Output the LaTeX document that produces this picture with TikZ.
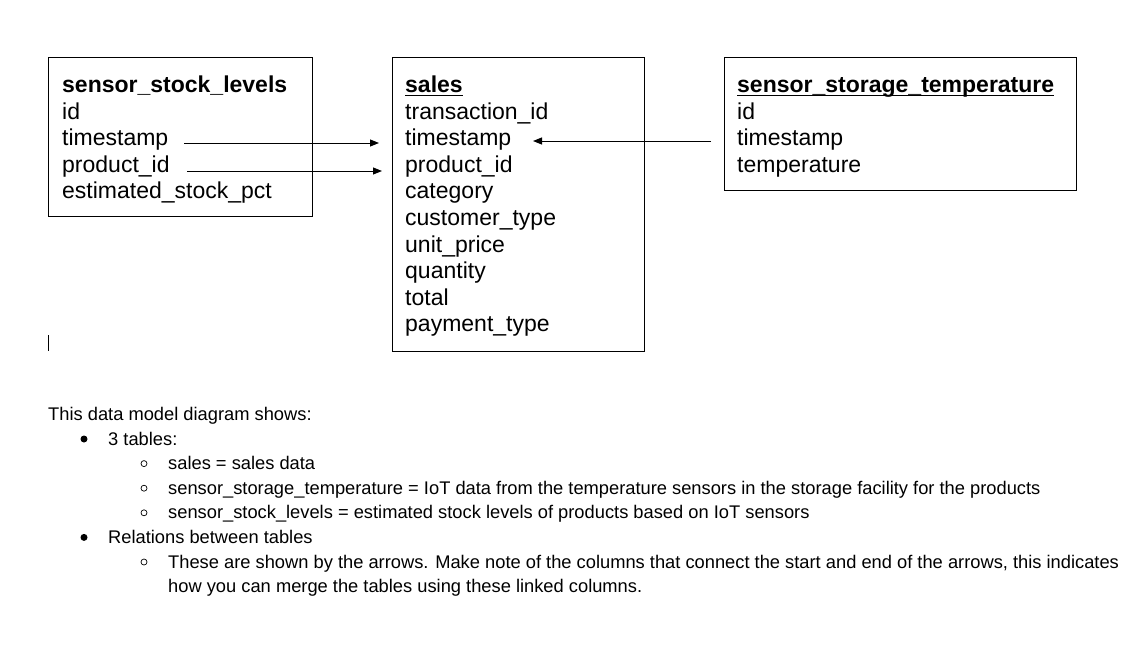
\documentclass[tikz,border=0pt]{standalone}
\usepackage{fontspec}
\setmainfont{Liberation Sans}
\usetikzlibrary{arrows.meta}
\begin{document}
\begin{tikzpicture}[x=1pt,y=-1pt,
  tbl/.style={draw, line width=1pt, inner sep=0pt, anchor=north west},
  fld/.style={anchor=base west, inner sep=0pt, font=\fontsize{23}{26}\selectfont},
  ttl/.style={anchor=base west, inner sep=0pt, font=\fontsize{23}{26}\selectfont\bfseries},
  uline/.style={line width=1.8pt},
  note/.style={anchor=base west, inner sep=0pt, font=\fontsize{18.3}{22}\selectfont},
  dotb/.style={circle, fill=black, inner sep=0pt, minimum size=7pt},
  ringb/.style={circle, draw=black, line width=0.7pt, inner sep=0pt, minimum size=6pt},
  link/.style={line width=1pt, -{Triangle[length=9pt,width=7pt]}}]
\useasboundingbox[fill=white] (0,0) rectangle (1140,645);

% boxes
\node[tbl, minimum width=264pt, minimum height=159pt] (sslBox) at (48,57) {};
\node[tbl, minimum width=252pt, minimum height=294pt] (salesBox) at (392,57) {};
\node[tbl, minimum width=352pt, minimum height=133pt] (sstBox) at (724,57) {};

% sensor_stock_levels
\node[ttl] (sslT) at (62,92.5) {sensor\_stock\_levels};
\node[fld] (sslId) at (62,119) {id};
\node[fld] (sslTs) at (62,145.6) {timestamp};
\node[fld] (sslPid) at (62,172.2) {product\_id};
\node[fld] (sslEst) at (62,198.8) {estimated\_stock\_pct};

% sales
\node[ttl] (salesT) at (405,92.5) {sales};
\draw[uline] ([yshift=-3pt]salesT.base west) -- ([yshift=-3pt]salesT.base east);
\node[fld] (sTid) at (405,119) {transaction\_id};
\node[fld] (sTs) at (405,145.6) {timestamp};
\node[fld] (sPid) at (405,172.2) {product\_id};
\node[fld] (sCat) at (405,198.8) {category};
\node[fld] (sCust) at (405,225.4) {customer\_type};
\node[fld] (sUp) at (405,252) {unit\_price};
\node[fld] (sQty) at (405,278.6) {quantity};
\node[fld] (sTot) at (405,305.2) {total};
\node[fld] (sPay) at (405,331.8) {payment\_type};

% sensor_storage_temperature
\node[ttl] (sstT) at (737,92.5) {sensor\_storage\_temperature};
\draw[uline] ([yshift=-3pt]sstT.base west) -- ([yshift=-3pt]sstT.base east);
\node[fld] (sstId) at (737,119) {id};
\node[fld] (sstTs) at (737,145.6) {timestamp};
\node[fld] (sstTemp) at (737,172.2) {temperature};

% relations
\coordinate (a1s) at (184,143);
\coordinate (a1e) at (379,143);
\coordinate (a2s) at (187,171);
\coordinate (a2e) at (382,171);
\coordinate (a3s) at (711,141);
\coordinate (a3e) at (533,141);
\draw[link] (a1s) -- (a1e);
\draw[link] (a2s) -- (a2e);
\draw[link] (a3s) -- (a3e);

% cursor mark
\coordinate (cur) at (48.5,335);
\draw[line width=0.8pt] (cur) -- ++(0,16);

% notes
\node[note] (n0) at (48,420.5) {This data model diagram shows:};
\node[dotb] (b1) at (84,439) {};
\node[note] (n1) at (108,445) {3 tables:};
\node[ringb] (r1) at (144,463.6) {};
\node[note] (n2) at (168,469.6) {sales = sales data};
\node[ringb] (r2) at (144,488.2) {};
\node[note] (n3) at (168,494.2) {sensor\_storage\_temperature = IoT data from the temperature sensors in the storage facility for the products};
\node[ringb] (r3) at (144,512.8) {};
\node[note] (n4) at (168,518.8) {sensor\_stock\_levels = estimated stock levels of products based on IoT sensors};
\node[dotb] (b2) at (84,537.4) {};
\node[note] (n5) at (108,543.4) {Relations between tables};
\node[ringb] (r4) at (144,562) {};
\node[note] (n6) at (168,568) {These are shown by the arrows. Make note of the columns that connect the start and end of the arrows, this indicates};
\node[note] (n7) at (168,592.6) {how you can merge the tables using these linked columns.};
\end{tikzpicture}
\end{document}
